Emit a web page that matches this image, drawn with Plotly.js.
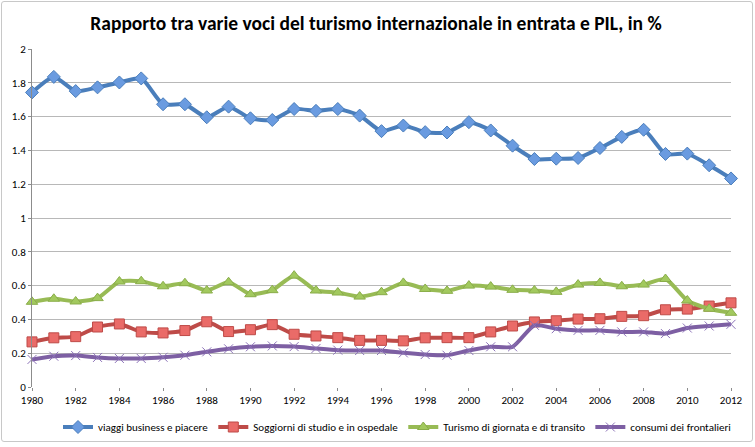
<!DOCTYPE html>
<html>
<head>
<meta charset="utf-8">
<script src="https://cdn.plot.ly/plotly-3.0.1.min.js"></script>
<style>
  html, body { margin: 0; padding: 0; background: #fff; }
  #wrap { position: relative; width: 755px; height: 447px; }
  #chart { width: 755px; height: 447px; }
  #frame { position: absolute; left: 1px; top: 1px; width: 750px; height: 439px;
           border: 1px solid #c8c8c8; border-radius: 3px; pointer-events: none; }
</style>
</head>
<body>
<div id="wrap">
  <div id="chart"></div>
  <div id="frame"></div>
</div>
<script>
const years = [1980,1981,1982,1983,1984,1985,1986,1987,1988,1989,1990,1991,1992,1993,1994,1995,1996,1997,1998,1999,2000,2001,2002,2003,2004,2005,2006,2007,2008,2009,2010,2011,2012];

const viaggiBusiness = [1.743,1.835,1.751,1.773,1.802,1.826,1.673,1.673,1.596,1.659,1.590,1.580,1.645,1.634,1.645,1.606,1.514,1.547,1.508,1.506,1.567,1.518,1.428,1.349,1.351,1.355,1.414,1.480,1.522,1.379,1.381,1.312,1.234];

const soggiorniStudio = [0.267,0.291,0.298,0.355,0.373,0.326,0.320,0.334,0.386,0.328,0.339,0.369,0.312,0.302,0.292,0.276,0.276,0.273,0.291,0.292,0.292,0.326,0.361,0.385,0.392,0.402,0.404,0.418,0.422,0.457,0.461,0.479,0.498];

const turismoGiornata = [0.504,0.522,0.506,0.526,0.624,0.626,0.596,0.614,0.571,0.620,0.549,0.573,0.659,0.571,0.559,0.535,0.561,0.616,0.580,0.569,0.600,0.594,0.575,0.571,0.563,0.606,0.616,0.596,0.606,0.639,0.512,0.463,0.439];

const consumiFrontalieri = [0.163,0.182,0.186,0.175,0.169,0.169,0.176,0.188,0.208,0.226,0.238,0.243,0.239,0.228,0.218,0.216,0.216,0.202,0.192,0.188,0.216,0.238,0.238,0.365,0.345,0.335,0.335,0.326,0.326,0.316,0.349,0.361,0.371];

const seriesNames = ["viaggi business e piacere", "Soggiorni di studio e in ospedale", "Turismo di giornata e di transito", "consumi dei frontalieri"];
const yTickVals = [0,0.2,0.4,0.6,0.8,1,1.2,1.4,1.6,1.8,2];
const yTickText = ["0","0.2","0.4","0.6","0.8","1","1.2","1.4","1.6","1.8","2"];
const xTickVals = [1980,1982,1984,1986,1988,1990,1992,1994,1996,1998,2000,2002,2004,2006,2008,2010,2012];

const FONT = "Carlito, 'Liberation Sans Narrow', 'DejaVu Sans Condensed', sans-serif";

function tr(y, name, lineColor, marker) {
  return {
    x: years, y: y, name: name, type: "scatter", mode: "lines+markers",
    line: { color: lineColor, width: 4, shape: "spline", smoothing: 0.6 },
    marker: marker, cliponaxis: false
  };
}

const data = [
  tr(viaggiBusiness, seriesNames[0], "#4a7ebb",
     { symbol: "diamond", size: 10, color: "#6a9be0", line: { color: "#4a7ebb", width: 1 } }),
  tr(soggiorniStudio, seriesNames[1], "#be4b48",
     { symbol: "square", size: 10, color: "#ea6b68", line: { color: "#be4b48", width: 1 } }),
  tr(turismoGiornata, seriesNames[2], "#98bb55",
     { symbol: "triangle-up", size: 10, color: "#a2c95e", line: { color: "#8aad4a", width: 1 } }),
  tr(consumiFrontalieri, seriesNames[3], "#7d5fa3",
     { symbol: "x-thin", size: 9, color: "#8c72b8", line: { color: "#8c72b8", width: 1 } })
];

const layout = {
  width: 755, height: 447,
  paper_bgcolor: "#ffffff", plot_bgcolor: "#ffffff",
  margin: { l: 32.3, r: 24, t: 49.3, b: 60.3 },
  font: { family: FONT, size: 11, color: "#000" },
  title: {
    text: "<b>Rapporto tra varie voci del turismo internazionale in entrata e PIL, in %</b>",
    font: { family: FONT, size: 19.5, color: "#000" },
    x: 376 / 755, xanchor: "center", xref: "container",
    y: 1 - 23 / 447, yref: "container", yanchor: "middle"
  },
  xaxis: {
    range: [1980, 2012], tickmode: "array", tickvals: xTickVals,
    showgrid: false, zeroline: false, showline: false,
    ticks: "outside", ticklen: 3, tickcolor: "#8c8c8c",
    tickfont: { family: FONT, size: 11 }
  },
  yaxis: {
    range: [0, 2], tickmode: "array", tickvals: yTickVals, ticktext: yTickText,
    showgrid: true, gridcolor: "#b8b8b8", gridwidth: 1,
    zeroline: false, showline: true, linecolor: "#8c8c8c", linewidth: 1,
    ticks: "outside", ticklen: 3, tickcolor: "#8c8c8c",
    tickfont: { family: FONT, size: 11 }
  },
  legend: {
    orientation: "h", x: 397 / 755, xref: "container", xanchor: "center",
    y: (447 - 427) / 447, yref: "container", yanchor: "middle",
    font: { family: FONT, size: 11 }, itemwidth: 30, tracegroupgap: 0
  },
  showlegend: true
};

Plotly.newPlot("chart", data, layout, { displayModeBar: false, staticPlot: true });
</script>
</body>
</html>
